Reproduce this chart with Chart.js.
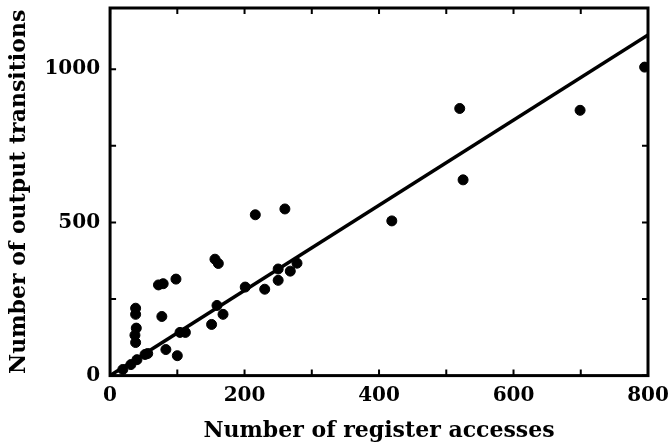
<!DOCTYPE html>
<html>
<head>
<meta charset="utf-8">
<script src="https://cdn.jsdelivr.net/npm/chart.js@4/dist/chart.umd.min.js"></script>
<style>
  html, body { margin: 0; padding: 0; background: #fff; }
  #wrap { width: 672px; height: 448px; }
</style>
</head>
<body>
<div id="wrap"><canvas id="chart" width="672" height="448"></canvas></div>
<script>
// Measured points: register accesses vs output transitions
const accesses = [19, 31, 40, 52, 56, 38, 38, 39, 37, 38, 72, 79, 98, 77, 83, 100, 104, 112,
    151, 156, 161, 159, 168, 201, 216, 230, 250, 250, 260, 268, 278, 419, 520, 525, 699, 795];
const transitions = [20, 36, 52, 69, 72, 220, 200, 155, 132, 108, 296, 300, 315, 193, 85, 65, 141, 141,
    167, 380, 366, 229, 200, 289, 525, 282, 311, 348, 544, 341, 367, 505, 872, 639, 866, 1007];

// Fitted line end points
const fitX = [0, 800];
const fitY = [0, 1112];

// Axis ticks
const xTicks = [0, 100, 200, 300, 400, 500, 600, 700, 800];
const xLabels = [0, 200, 400, 600, 800];
const yTicks = [0, 250, 500, 750, 1000];
const yLabels = [0, 500, 1000];

const points = accesses.map((v, i) => ({ x: v, y: transitions[i] }));
const fit = fitX.map((v, i) => ({ x: v, y: fitY[i] }));

const tickFont = { family: "'DejaVu Serif', serif", weight: "bold", size: 20 };
const titleFont = { family: "'DejaVu Serif', serif", weight: "bold", size: 22 };

// Draw the box frame and the small inward tick marks
const frame = {
    id: "frame",
    afterDatasetsDraw(chart) {
        const { ctx, chartArea: a, scales: { x, y } } = chart;
        ctx.save();
        ctx.strokeStyle = "#000";
        ctx.lineWidth = 2;
        xTicks.forEach(v => {
            const px = x.getPixelForValue(v);
            ctx.beginPath();
            ctx.moveTo(px, a.bottom); ctx.lineTo(px, a.bottom - 6);
            ctx.moveTo(px, a.top); ctx.lineTo(px, a.top + 6);
            ctx.stroke();
        });
        yTicks.forEach(v => {
            const py = y.getPixelForValue(v);
            ctx.beginPath();
            ctx.moveTo(a.left, py); ctx.lineTo(a.left + 6, py);
            ctx.moveTo(a.right, py); ctx.lineTo(a.right - 6, py);
            ctx.stroke();
        });
        ctx.lineWidth = 3;
        ctx.strokeRect(a.left, a.top, a.right - a.left, a.bottom - a.top);
        ctx.restore();
    }
};

new Chart(document.getElementById("chart"), {
    type: "scatter",
    data: {
        datasets: [
            {
                data: points,
                backgroundColor: "#000",
                borderColor: "#000",
                pointRadius: 5,
                pointHoverRadius: 5,
            },
            {
                type: "line",
                data: fit,
                borderColor: "#000",
                borderWidth: 3.5,
                pointRadius: 0,
                fill: false,
            },
        ],
    },
    options: {
        responsive: false,
        animation: false,
        layout: { padding: { top: 8, right: 24, bottom: 4, left: 6 } },
        plugins: { legend: { display: false }, tooltip: { enabled: false } },
        scales: {
            x: {
                type: "linear",
                min: 0,
                max: 800,
                afterBuildTicks: s => { s.ticks = xLabels.map(v => ({ value: v })); },
                ticks: { font: tickFont, color: "#000", padding: 0, maxRotation: 0, callback: v => String(v) },
                grid: { display: false },
                border: { display: false },
                title: { display: true, text: "Number of register accesses", font: titleFont, color: "#000", padding: { top: 10, bottom: 0 } },
            },
            y: {
                type: "linear",
                min: 0,
                max: 1200,
                afterBuildTicks: s => { s.ticks = yLabels.map(v => ({ value: v })); },
                afterFit: s => { s.paddingTop = 0; },
                ticks: { font: tickFont, color: "#000", padding: 2, callback: v => String(v) },
                grid: { display: false },
                border: { display: false },
                title: { display: true, text: "Number of output transitions", font: titleFont, color: "#000", padding: { top: 0, bottom: 10 } },
            },
        },
    },
    plugins: [frame],
});
</script>
</body>
</html>
